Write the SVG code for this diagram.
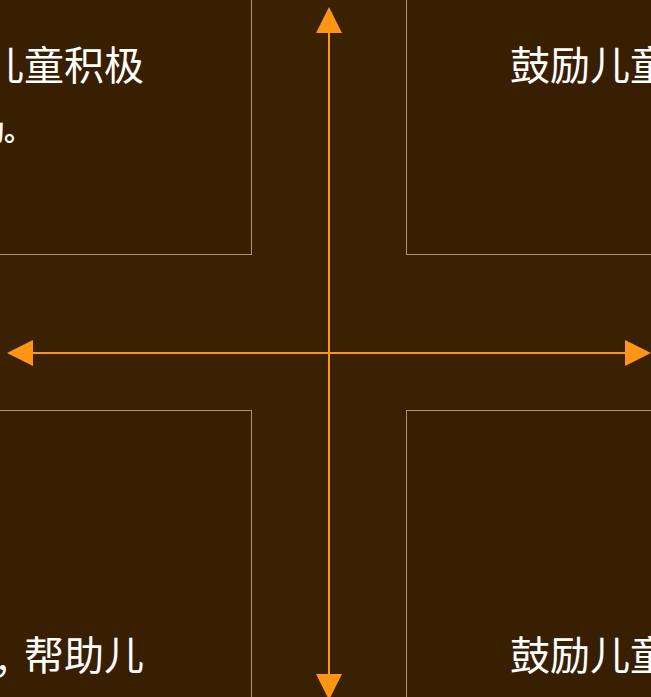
<svg xmlns="http://www.w3.org/2000/svg" width="651" height="697" viewBox="0 0 651 697">
<style>
.box{fill:#381f01;stroke:#a8957a;stroke-width:1}
.t{font-family:"Noto Sans CJK SC","Noto Sans",sans-serif;fill:#ffffff}
.big{font-size:40px}
.small{font-size:28px;font-weight:bold}
.ax{stroke:#ff9514;stroke-width:2;fill:none}
.ah{fill:#ff9514}
</style>
<rect width="651" height="697" fill="#3a2102"/>
<g id="quadrant-top-left">
<rect class="box" x="-150.5" y="-150.5" width="402" height="405"/>
<text class="t big" x="144" y="80" text-anchor="end">儿童积极</text>
<text class="t small" x="32" y="141" text-anchor="end">动。</text>
</g>
<g id="quadrant-top-right">
<rect class="box" x="406.5" y="-150.5" width="400" height="405"/>
<text class="t big" x="510" y="80">鼓励儿童</text>
</g>
<g id="quadrant-bottom-left">
<rect class="box" x="-150.5" y="410.5" width="402" height="400"/>
<text class="t big" x="-3" y="670">, <tspan x="24">帮助儿</tspan></text>
</g>
<g id="quadrant-bottom-right">
<rect class="box" x="406.5" y="410.5" width="400" height="400"/>
<text class="t big" x="510" y="670">鼓励儿童</text>
</g>
<g id="connectors">
<line class="ax" x1="329" y1="30" x2="329" y2="677"/>
<line class="ax" x1="30" y1="353" x2="628" y2="353"/>
<polygon class="ah" points="329,7 316,33 342,33"/>
<polygon class="ah" points="329,700 316,674 342,674"/>
<polygon class="ah" points="7,353 33,340 33,366"/>
<polygon class="ah" points="651,353 625,340 625,366"/>
</g>
</svg>
